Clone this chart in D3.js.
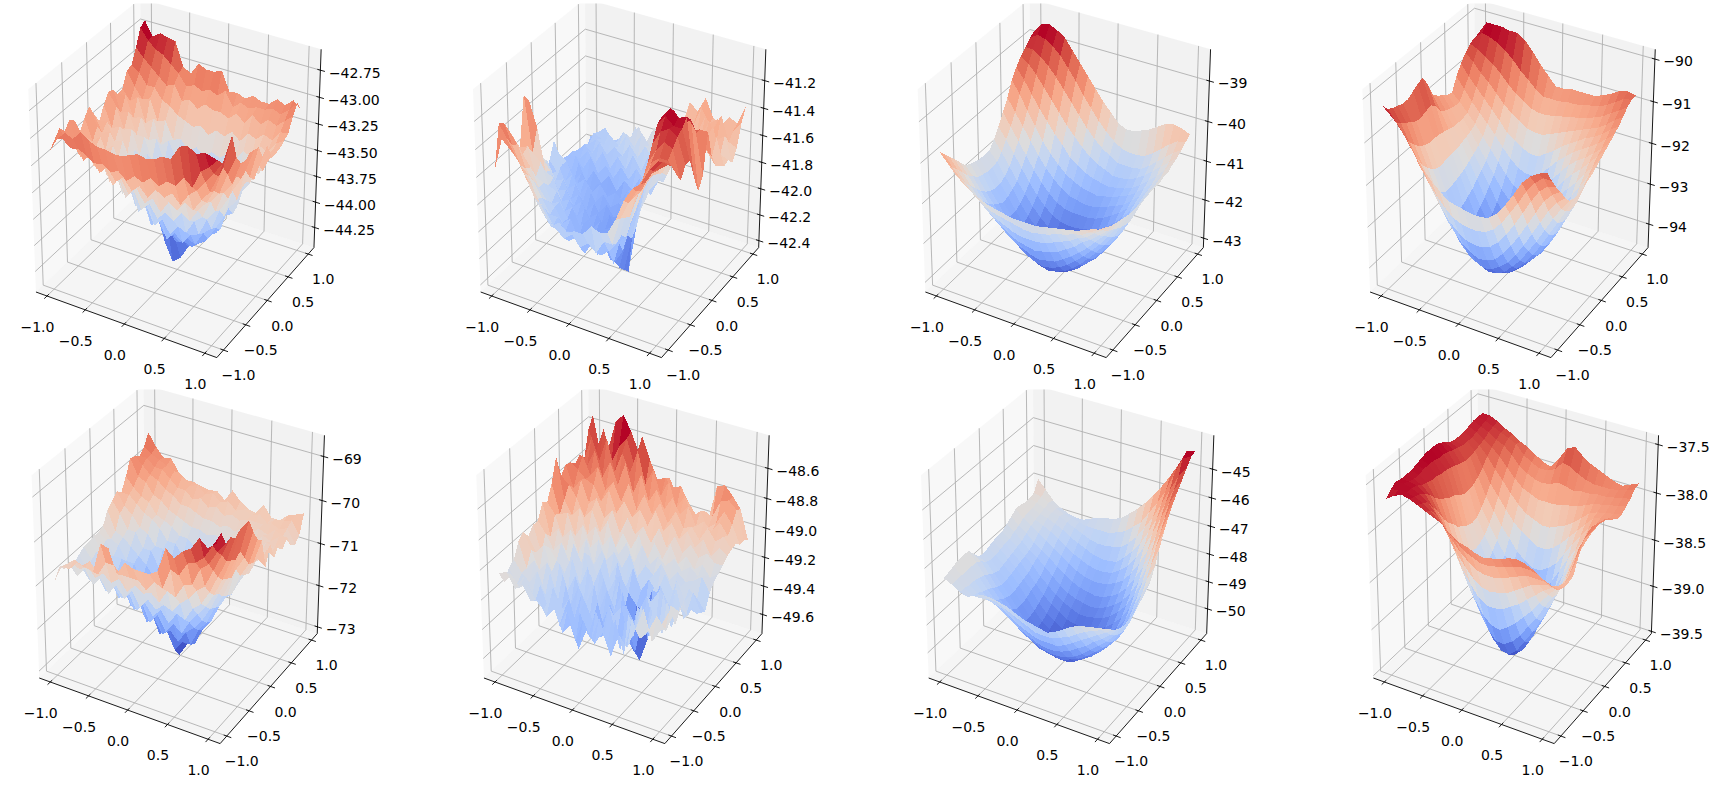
<!DOCTYPE html>
<html>
<head>
<meta charset="UTF-8">
<style>
  html, body { margin: 0; padding: 0; background: #fff; overflow: hidden; }
  svg { display: block; }
  text { font-family: "DejaVu Sans", sans-serif; font-size: 14px; fill: #000; }
</style>
</head>
<body>
<svg id="chart" width="1722" height="800"></svg>
<script src="https://d3js.org/d3.v7.min.js"></script>
<script>
var zMins = [-44.33, -42.36, -42.93, -94.29, -72.87, -49.65, -50.47, -39.39];
var zMaxs = [-42.68, -41.07, -38.55, -90.08, -68.82, -48.47, -44.29, -37.54];
var zTicks = [
  [-44.25, -44, -43.75, -43.5, -43.25, -43, -42.75],
  [-42.4, -42.2, -42, -41.8, -41.6, -41.4, -41.2],
  [-43, -42, -41, -40, -39],
  [-94, -93, -92, -91, -90],
  [-73, -72, -71, -70, -69],
  [-49.6, -49.4, -49.2, -49, -48.8, -48.6],
  [-50, -49, -48, -47, -46, -45],
  [-39.5, -39, -38.5, -38, -37.5]
];
var zFormats = [".2f", ".1f", ".0f", ".0f", ".0f", ".1f", ".0f", ".1f"];
var xyTicks = [-1, -0.5, 0, 0.5, 1];

// heights as percent between zMin and zMax; rows go y = -1..1, columns x = -1..1 in steps of 0.1
var grid1 = [
[72,80,85,83,88,85,83,83,82,82,84,86,85,86,89,89,97,99,96,98,97],
[76,78,74,75,73,70,71,68,70,66,70,68,72,69,73,72,78,74,84,88,93],
[80,73,76,66,71,62,67,60,64,58,62,57,63,60,64,59,66,70,76,82,89],
[76,70,64,68,60,63,54,60,52,57,50,54,48,55,52,58,55,62,68,78,94],
[80,66,70,58,63,52,58,46,52,42,47,40,45,42,48,45,52,58,66,80,99],
[77,70,60,65,52,57,44,50,37,42,32,37,30,36,34,42,46,56,62,74,85],
[68,66,62,52,58,46,50,36,41,28,32,23,28,24,30,32,42,48,60,66,79],
[74,62,66,55,47,52,38,43,30,34,22,24,20,24,22,30,34,46,54,68,78],
[78,68,56,60,48,42,46,32,36,22,22,16,18,16,20,24,32,40,56,64,80],
[71,62,64,50,54,38,42,26,28,10,0,4,12,16,18,24,28,42,48,66,79],
[65,66,56,58,44,46,32,34,22,6,2,8,16,14,20,22,34,36,52,60,78],
[72,60,62,48,52,40,42,26,28,18,14,12,18,16,24,24,38,38,54,56,70],
[77,70,58,60,46,48,36,36,26,24,18,20,20,24,26,32,36,44,50,62,74],
[76,64,66,54,54,42,44,32,34,24,28,24,28,26,34,32,42,44,56,56,66],
[71,72,60,62,50,52,40,42,32,34,30,32,30,36,34,42,42,52,50,62,69],
[72,66,70,56,60,46,50,40,42,36,40,36,42,40,46,44,52,50,60,58,65],
[80,72,66,68,56,58,48,50,44,48,44,48,46,50,48,54,52,60,58,64,67],
[81,78,72,72,66,64,60,58,56,58,54,58,56,60,56,62,60,64,62,68,69],
[89,84,80,76,72,74,66,68,64,68,66,66,64,68,64,70,66,70,68,72,76],
[98,92,88,86,82,78,72,74,72,74,72,76,68,72,70,72,72,74,72,76,81],
[100,92,95,94,93,80,77,84,82,82,84,73,74,72,75,73,73,77,75,79,75]
];
var grid2 = [
[62,80,76,71,62,53,46,40,44,40,42,42,48,46,47,56,68,76,80,89,95],
[85,78,70,62,56,48,40,36,32,36,30,34,30,38,38,54,64,72,78,86,92],
[83,72,62,58,46,42,34,36,28,32,24,32,26,30,36,52,64,70,80,84,88],
[76,70,58,52,44,36,36,30,30,24,28,22,30,20,38,50,68,74,80,86,85],
[69,62,56,46,40,38,30,34,24,30,24,28,18,30,34,54,70,80,84,84,78],
[62,64,48,46,36,38,30,26,30,22,28,20,14,22,40,58,76,84,90,88,72],
[89,58,54,42,40,30,34,24,30,24,20,12,8,28,44,62,84,92,95,92,78],
[84,70,46,44,32,34,26,32,22,28,22,6,4,24,48,68,92,98,94,94,78],
[57,50,44,34,36,28,32,24,28,20,24,2,0,28,52,74,94,100,96,98,66],
[41,46,36,38,28,32,24,30,20,26,18,22,24,36,54,74,88,96,90,94,56],
[31,36,40,30,34,26,32,22,28,22,26,24,30,38,54,72,84,90,92,86,62],
[40,34,30,36,26,32,24,30,24,28,24,30,32,42,52,70,80,84,78,84,84],
[49,36,34,28,32,26,32,26,30,26,32,28,36,42,50,62,66,78,70,72,68],
[39,36,26,32,22,28,20,28,22,30,24,34,32,42,46,58,62,66,72,66,60],
[34,28,34,24,32,26,32,24,32,28,36,30,40,38,50,54,64,60,68,62,58],
[33,34,28,36,28,34,28,36,30,38,32,42,38,48,46,60,58,66,62,70,55],
[33,30,36,30,38,30,38,32,42,34,44,36,50,44,58,54,68,62,72,58,56],
[31,36,32,40,34,40,36,44,38,46,40,52,46,60,52,68,60,72,62,66,52],
[30,34,38,36,42,38,46,40,50,44,54,48,58,52,66,60,70,64,74,60,58],
[27,38,36,40,36,44,42,50,42,52,48,56,50,64,60,72,64,68,62,64,70],
[32,36,40,34,36,34,46,39,38,44,60,48,54,70,66,75,65,62,68,66,77]
];
var grid3 = [
[72,67,62,58,55,53,51,50,49,48,48,48,48,49,50,51,52,53,55,57,58],
[68,62,57,53,49,46,44,43,42,41,40,40,41,42,44,45,47,48,51,54,57],
[64,58,52,47,43,39,37,35,33,32,32,32,33,35,37,39,42,44,48,51,55],
[60,54,48,42,37,33,30,27,25,24,23,24,25,27,30,33,37,40,44,48,54],
[56,50,44,38,32,27,23,20,18,16,15,16,17,20,23,27,31,36,41,46,53],
[52,47,40,34,28,23,18,14,11,9,8,9,11,14,18,22,27,32,38,44,52],
[50,44,37,31,25,19,14,9,6,4,3,4,6,9,13,18,23,29,35,42,51],
[49,43,35,29,22,16,11,6,3,1,1,1,3,6,10,15,20,26,33,41,51],
[48,42,34,27,21,15,9,5,2,0,0,0,2,5,9,13,19,25,32,40,51],
[48,42,34,28,21,15,10,6,3,1,1,1,3,6,10,14,20,26,33,41,51],
[48,43,36,30,23,17,12,8,5,3,3,4,6,8,12,17,22,28,35,43,51],
[52,46,39,32,26,20,15,11,8,7,7,8,10,12,16,20,25,31,37,44,51],
[57,51,44,37,30,24,19,15,13,12,12,13,14,16,19,23,28,33,39,45,51],
[63,56,49,42,35,29,24,20,18,17,17,17,18,20,23,26,30,35,40,46,51],
[69,62,55,48,41,35,30,26,23,22,21,21,22,24,26,28,32,36,41,46,52],
[77,70,62,54,47,41,36,32,29,27,26,25,26,27,29,31,34,38,42,47,52],
[82,76,69,62,56,50,45,39,36,33,31,30,29,30,31,33,36,40,44,49,54],
[86,83,78,72,66,60,54,49,44,40,37,35,33,33,34,36,39,43,47,51,55],
[89,89,86,82,77,71,65,59,53,48,44,41,38,38,38,39,42,46,50,54,57],
[92,95,94,91,87,81,75,68,62,56,51,47,44,43,43,44,47,51,55,58,59],
[94,99,100,98,95,89,83,77,71,65,60,55,53,53,55,57,60,63,64,63,61]
];
var grid4 = [
[97,93,89,83,76,69,64,60,56,55,54,53,53,54,58,64,71,79,84,87,89],
[93,87,81,74,66,59,53,48,44,42,41,41,42,45,50,57,64,72,78,82,82],
[91,84,75,67,58,50,43,37,33,30,29,29,31,35,41,48,56,64,71,75,76],
[90,82,71,61,51,42,34,28,23,20,18,19,21,26,32,39,47,55,63,68,71],
[89,80,68,57,46,36,27,20,15,12,10,11,14,18,24,31,39,47,55,61,65],
[89,78,66,54,42,31,22,15,10,7,5,6,8,13,18,25,32,40,48,55,61],
[91,78,65,52,40,29,19,12,7,3,2,3,5,9,14,20,27,35,43,51,60],
[93,79,65,52,40,28,18,11,5,2,1,1,3,7,12,17,24,32,41,49,60],
[94,80,65,53,41,29,19,11,5,1,0,0,2,6,11,16,23,31,40,49,61],
[88,77,64,53,42,31,21,13,7,3,1,1,3,7,12,18,25,33,42,51,62],
[80,72,63,53,43,33,24,16,9,4,2,2,5,10,17,24,31,38,46,55,63],
[77,70,62,54,45,36,27,19,12,8,6,7,11,17,25,32,38,44,51,58,65],
[75,69,62,55,47,39,31,23,17,13,12,13,18,24,32,39,44,49,55,61,67],
[73,68,62,56,49,42,35,28,23,19,19,21,25,32,39,45,50,54,59,64,69],
[72,68,63,58,52,46,40,34,29,27,27,29,34,40,46,51,55,58,62,66,71],
[79,73,67,62,57,52,46,41,37,35,35,38,43,48,52,56,59,62,65,69,73],
[84,78,73,68,63,58,52,49,46,44,44,47,50,54,57,60,63,65,68,72,75],
[88,84,79,75,70,65,61,58,55,54,54,56,58,60,62,64,66,68,71,75,78],
[91,89,86,83,79,74,70,67,64,63,63,64,65,66,67,68,70,72,75,78,81],
[92,96,95,93,90,86,81,77,73,70,70,70,71,71,72,73,74,76,79,82,83],
[93,100,100,100,99,99,96,91,85,80,75,75,76,76,76,76,78,80,83,84,83]
];
var grid5 = [
[47,57,57,62,61,60,77,76,63,71,69,69,69,72,86,82,87,90,97,93,97],
[53,56,60,58,62,56,64,64,60,60,60,56,62,60,72,70,78,80,84,92,100],
[49,54,52,55,50,54,50,54,48,53,50,52,48,56,54,62,64,74,78,86,92],
[49,44,50,42,47,40,46,40,46,38,44,40,44,42,48,52,58,62,72,82,93],
[48,46,40,45,37,42,36,40,32,38,32,37,31,38,36,44,48,56,66,76,90],
[50,42,46,38,42,32,37,28,34,24,30,22,28,24,32,38,44,52,62,74,92],
[52,46,40,43,33,37,26,31,20,24,16,20,15,22,26,32,40,50,60,72,92],
[52,48,42,38,40,28,32,20,24,12,15,6,12,12,22,28,38,46,58,74,92],
[53,46,44,36,36,30,24,26,14,16,6,0,8,10,20,26,36,44,60,68,84],
[53,50,42,42,32,32,22,22,12,12,8,4,10,14,22,28,38,42,54,62,77],
[54,48,46,38,38,28,28,18,18,14,14,12,16,18,26,30,38,44,52,60,74],
[61,50,48,44,40,36,30,26,20,22,18,20,20,26,28,36,40,48,50,60,57],
[64,58,50,50,42,42,34,32,28,26,26,24,28,30,34,38,46,46,56,56,67],
[67,60,56,50,48,42,42,36,34,32,30,32,30,36,36,44,44,52,52,60,57],
[64,64,60,56,54,50,44,44,38,38,36,38,38,40,44,44,50,50,56,56,62],
[71,66,62,60,54,52,50,46,46,42,44,42,46,46,50,48,54,52,58,56,57],
[79,70,68,62,60,56,54,52,50,50,48,50,48,52,50,54,52,58,56,60,61],
[78,74,70,68,64,62,58,58,56,54,54,52,54,52,56,54,58,56,60,58,54],
[76,76,72,72,68,64,64,60,62,58,60,56,58,56,58,58,58,60,58,60,52],
[79,76,74,72,70,68,64,66,62,64,60,62,58,60,58,60,56,60,60,62,55],
[85,78,73,74,67,64,64,63,62,63,59,66,61,58,57,63,57,57,61,63,65]
];
var grid6 = [
[52,54,46,50,42,44,36,42,30,36,24,36,30,38,26,40,34,46,59,42,50],
[44,50,44,48,40,36,46,30,40,24,38,28,42,30,44,26,48,38,44,54,48],
[50,42,48,40,46,34,42,36,30,38,26,42,28,40,24,46,38,48,36,46,56],
[52,46,42,50,38,44,32,40,26,42,32,24,44,28,38,30,50,34,46,40,52],
[60,46,52,40,48,34,44,26,42,30,40,24,36,42,22,46,30,48,34,52,50],
[63,54,44,50,36,46,30,42,34,46,26,38,26,40,32,26,44,32,50,38,53],
[58,50,56,42,48,34,44,30,48,28,42,32,44,20,36,46,28,50,32,46,42],
[62,48,52,46,40,50,36,48,28,44,32,46,14,8,30,40,48,30,52,36,44],
[62,56,48,54,44,38,52,34,46,34,44,26,6,0,14,32,42,36,48,40,38],
[70,52,58,46,52,42,48,38,50,30,42,34,28,26,40,44,34,50,40,46,36],
[68,62,50,56,44,54,40,50,36,46,32,46,34,42,36,48,40,44,44,40,34],
[76,60,62,50,58,46,52,42,48,40,50,38,46,42,50,42,48,44,46,50,42],
[89,66,58,64,50,56,46,54,44,52,42,54,44,50,46,52,46,50,46,48,46],
[76,72,66,56,62,50,58,44,54,46,56,42,54,46,56,46,52,46,50,44,48],
[80,68,74,62,66,56,62,50,60,52,58,50,60,50,58,50,56,50,54,50,50],
[79,76,72,70,62,70,58,66,58,64,56,66,56,62,54,60,52,58,50,56,53],
[76,82,72,78,66,72,62,74,60,70,60,68,58,66,58,60,54,62,56,60,54],
[79,74,84,70,80,68,82,66,78,64,72,62,70,62,68,58,62,58,64,58,55],
[74,88,76,90,72,84,74,88,70,80,66,76,62,70,60,64,56,60,68,62,52],
[89,78,92,74,84,90,76,94,82,72,74,70,72,64,58,62,60,70,72,68,52],
[95,74,78,95,100,92,81,69,66,69,72,62,50,55,53,55,75,77,72,66,50]
];
var grid7 = [
[49,47,44,43,45,47,47,46,45,43,41,40,39,38,40,43,46,48,49,50,51],
[50,47,44,41,41,42,42,40,38,36,34,32,32,32,34,36,39,42,44,46,48],
[51,47,43,40,38,37,36,33,30,28,26,25,25,25,27,30,33,36,39,42,45],
[52,47,43,38,35,32,29,26,23,21,19,18,18,19,21,24,27,31,34,38,43],
[52,47,42,37,32,28,24,20,17,15,13,12,12,13,15,18,22,26,30,35,42],
[52,47,41,35,30,25,20,15,12,9,8,7,7,9,11,14,18,22,27,33,42],
[48,45,39,33,28,23,17,12,8,5,4,3,3,5,8,11,15,20,25,32,43],
[44,42,37,32,27,21,15,10,6,3,1,1,2,4,6,10,14,19,25,33,44],
[43,41,36,32,27,21,15,10,6,3,1,0,1,3,6,10,14,20,27,36,46],
[44,41,37,33,28,22,16,11,8,5,3,2,3,5,8,11,16,22,30,39,48],
[45,42,38,34,29,24,18,13,10,7,6,5,6,7,10,14,19,25,34,43,51],
[46,43,39,35,30,25,20,16,13,10,9,8,9,11,13,17,22,29,38,48,57],
[46,43,40,36,32,27,23,19,16,14,12,12,13,14,17,21,26,34,43,54,65],
[48,45,41,37,34,30,26,22,19,17,16,15,16,18,21,25,31,39,49,61,72],
[50,46,43,39,36,33,29,26,23,21,20,19,20,22,25,30,37,45,55,67,78],
[52,48,45,42,39,36,33,30,27,25,24,24,25,27,30,36,43,52,62,73,83],
[52,49,46,44,42,39,36,33,31,29,28,28,29,32,36,42,50,59,69,79,87],
[51,49,47,46,44,42,39,37,35,33,32,32,33,37,42,48,56,65,75,84,91],
[51,50,48,47,46,44,42,40,38,37,37,38,39,43,48,55,62,71,80,89,95],
[52,51,49,47,45,44,43,42,42,42,42,44,46,50,54,61,68,76,87,97,99],
[58,53,48,45,43,42,42,44,46,47,48,50,54,58,63,69,75,82,90,99,100]
];
var grid8 = [
[93,96,98,97,95,93,91,89,85,82,81,79,78,79,80,82,83,82,80,77,75],
[96,97,97,96,94,91,87,83,79,75,73,71,71,72,73,75,76,76,75,72,70],
[98,98,97,95,92,87,81,75,70,66,63,62,62,63,65,67,69,69,69,68,67],
[97,97,96,93,87,80,72,65,59,54,51,50,51,52,55,58,61,63,64,65,66],
[97,96,94,90,82,73,63,54,47,41,38,38,39,42,45,49,53,57,60,63,66],
[97,96,93,86,76,64,53,43,35,28,24,23,26,30,35,40,46,52,57,62,67],
[98,97,92,83,71,58,46,34,25,17,12,12,15,20,27,33,41,48,56,64,74],
[99,97,92,81,68,54,41,29,18,9,4,3,7,14,21,29,38,47,57,68,80],
[100,97,91,79,64,51,39,27,15,6,1,0,4,11,20,29,39,50,61,73,83],
[100,96,91,78,62,49,38,27,16,7,2,1,4,12,22,32,42,53,64,75,84],
[100,96,90,76,60,48,38,28,18,9,4,3,6,14,25,35,45,55,65,75,83],
[99,95,89,74,59,49,39,30,22,14,9,8,11,19,29,39,48,57,66,75,82],
[97,94,88,74,60,51,43,35,27,21,16,15,18,25,34,43,52,60,68,75,81],
[95,93,87,75,63,55,47,40,34,29,25,24,27,33,41,49,56,63,70,75,79],
[94,92,87,77,67,60,53,47,41,37,34,34,37,41,48,55,61,67,71,74,76],
[94,92,88,80,72,66,60,54,50,47,44,44,46,50,55,60,65,70,72,73,74],
[94,92,89,84,78,73,67,62,58,56,54,54,56,58,61,65,69,71,72,73,74],
[95,93,90,87,83,78,73,69,67,65,65,65,66,67,68,70,72,73,74,75,76],
[96,94,92,89,87,83,78,75,73,72,73,75,74,73,74,74,75,75,76,77,78],
[96,95,93,91,89,87,82,79,77,77,79,84,83,80,78,77,77,77,78,79,81],
[96,96,94,91,89,86,84,81,78,77,83,90,92,88,85,83,81,79,78,80,82]
];
var grids = [grid1, grid2, grid3, grid4, grid5, grid6, grid7, grid8];

var coolwarmStops = ["#3b4cc0", "#5977e3", "#7b9ff9", "#9ebeff", "#c0d4f5", "#dddcdc",
                     "#f2cbb7", "#f7ac8e", "#ee8468", "#d65244", "#b40426"];

// view used by the reference: elevation 30, azimuth -60, camera distance 10
var DIST = 10;
var elev = 30 * Math.PI / 180, azim = -60 * Math.PI / 180;
var viewN = [Math.cos(elev) * Math.cos(azim), Math.cos(elev) * Math.sin(azim), Math.sin(elev)];
var viewU = [-Math.sin(azim), Math.cos(azim), 0];
var viewV = [viewN[1] * viewU[2] - viewN[2] * viewU[1],
             viewN[2] * viewU[0] - viewN[0] * viewU[2],
             viewN[0] * viewU[1] - viewN[1] * viewU[0]];

// projected plane -> panel pixels
var screenX = d3.scaleLinear().domain([-0.1, 0.1]).range([177.2 - 200.4, 177.2 + 200.4]);
var screenY = d3.scaleLinear().domain([-0.1, 0.1]).range([171.8 + 222.1, 171.8 - 222.1]);

function dot(a, d) { return a[0] * d[0] + a[1] * d[1] + a[2] * d[2]; }

// p is in world units, where 0..1 is the axis limit range on each axis
function project(p) {
  var d = [p[0] - 0.5, p[1] - 0.5, p[2] - 0.5];
  var depth = DIST - dot(viewN, d);
  return { x: screenX(dot(viewU, d) / depth), y: screenY(dot(viewV, d) / depth), depth: depth };
}
function pts(list) {
  return list.map(function(p) { var s = project(p); return s.x + "," + s.y; }).join(" ");
}
function pathOf(list) {
  return "M" + list.map(function(p) { var s = project(p); return s.x + "," + s.y; }).join("L");
}

var LO = -1 / 48, HI = 49 / 48;
var xyWorld = d3.scaleLinear().domain([-1.1, 1.1]).range([0, 1]);

var svg = d3.select("#chart");
var defs = svg.append("defs");
defs.append("clipPath").attr("id", "panel-clip").append("rect")
  .attr("x", -20).attr("y", 3.5).attr("width", 420).attr("height", 420);

function drawPanel(idx) {
  var col = idx % 4, row = Math.floor(idx / 4);
  var g = svg.append("g")
    .attr("transform", "translate(" + (col * 444.7 + row * 3.3) + "," + (row * 386) + ")");
  var inner = g.append("g").attr("clip-path", "url(#panel-clip)");

  var zValue = d3.scaleLinear().domain([0, 100]).range([zMins[idx], zMaxs[idx]]);
  var zSpan = zMaxs[idx] - zMins[idx];
  var zWorld = d3.scaleLinear()
    .domain([zMins[idx] - 0.05 * zSpan, zMaxs[idx] + 0.05 * zSpan]).range([0, 1]);

  // panes
  inner.append("polygon").attr("fill", "#f2f2f2").attr("fill-opacity", 0.5)
    .attr("points", pts([[LO, LO, LO], [LO, HI, LO], [LO, HI, HI], [LO, LO, HI]]));
  inner.append("polygon").attr("fill", "#e6e6e6").attr("fill-opacity", 0.5)
    .attr("points", pts([[LO, HI, LO], [HI, HI, LO], [HI, HI, HI], [LO, HI, HI]]));
  inner.append("polygon").attr("fill", "#ececec").attr("fill-opacity", 0.5)
    .attr("points", pts([[LO, LO, LO], [HI, LO, LO], [HI, HI, LO], [LO, HI, LO]]));

  // grid lines
  var gridPaths = [];
  xyTicks.forEach(function(t) {
    var w = xyWorld(t);
    gridPaths.push([[w, LO, LO], [w, HI, LO], [w, HI, HI]]);
    gridPaths.push([[HI, w, LO], [LO, w, LO], [LO, w, HI]]);
  });
  zTicks[idx].forEach(function(t) {
    var w = zWorld(t);
    gridPaths.push([[LO, LO, w], [LO, HI, w], [HI, HI, w]]);
  });
  inner.selectAll("path.grid").data(gridPaths).enter().append("path")
    .attr("class", "grid").attr("fill", "none").attr("stroke", "#b0b0b0").attr("stroke-width", 0.9)
    .attr("d", pathOf);

  // surface facets, far ones first
  var grid = grids[idx];
  var facets = [];
  for (var j = 0; j < grid.length - 1; j++) {
    for (var i = 0; i < grid[j].length - 1; i++) {
      var corners = [[i, j], [i + 1, j], [i + 1, j + 1], [i, j + 1]];
      var world = corners.map(function(c) {
        return [xyWorld(c[0] / 10 - 1), xyWorld(c[1] / 10 - 1), zWorld(zValue(grid[c[1]][c[0]]))];
      });
      var mean = d3.mean(corners, function(c) { return zValue(grid[c[1]][c[0]]); });
      var depth = d3.mean(world, function(p) { return project(p).depth; });
      facets.push({ world: world, mean: mean, depth: depth });
    }
  }
  facets.sort(function(a, b) { return b.depth - a.depth; });
  var ext = d3.extent(facets, function(f) { return f.mean; });
  var color = d3.scaleLinear()
    .domain(coolwarmStops.map(function(c, i) { return ext[0] + (ext[1] - ext[0]) * i / 10; }))
    .range(coolwarmStops);
  inner.selectAll("polygon.facet").data(facets).enter().append("polygon")
    .attr("class", "facet")
    .attr("shape-rendering", "crispEdges")
    .attr("fill", function(f) { return color(f.mean); })
    .attr("points", function(f) { return pts(f.world); });

  // axis lines
  var axisPaths = [
    [[LO, LO, LO], [HI, LO, LO]],
    [[HI, LO, LO], [HI, HI, LO]],
    [[HI, HI, LO], [HI, HI, HI]]
  ];
  g.selectAll("path.axis").data(axisPaths).enter().append("path")
    .attr("class", "axis").attr("fill", "none").attr("stroke", "#000").attr("stroke-width", 0.9)
    .attr("d", pathOf);

  // ticks and labels
  var fmt1 = d3.format(".1f"), fmtZ = d3.format(zFormats[idx]);
  var tickPaths = [];
  xyTicks.forEach(function(t) {
    var w = xyWorld(t);
    tickPaths.push([[w, LO + 0.017, LO], [w, LO - 0.025, LO]]);
    tickPaths.push([[HI - 0.017, w, LO], [HI + 0.025, w, LO]]);
    var sx = project([w, LO, LO]), sy = project([HI, w, LO]);
    g.append("text").attr("text-anchor", "middle").attr("dy", "0.35em")
      .attr("x", sx.x - 9.5).attr("y", sx.y + 31).text(fmt1(t));
    g.append("text").attr("text-anchor", "middle").attr("dy", "0.35em")
      .attr("x", sy.x + 15).attr("y", sy.y + 25.5).text(fmt1(t));
  });
  zTicks[idx].forEach(function(t) {
    var w = zWorld(t);
    tickPaths.push([[HI - 0.017, HI, w], [HI + 0.025, HI, w]]);
    var s = project([HI, HI, w]);
    g.append("text").attr("dy", "0.35em").attr("x", s.x + 8.5).attr("y", s.y + 2.5).text(fmtZ(t));
  });
  g.selectAll("path.tick").data(tickPaths).enter().append("path")
    .attr("class", "tick").attr("fill", "none").attr("stroke", "#000").attr("stroke-width", 0.9)
    .attr("d", pathOf);
}

grids.forEach(function(d, i) { drawPanel(i); });
</script>
</body>
</html>
